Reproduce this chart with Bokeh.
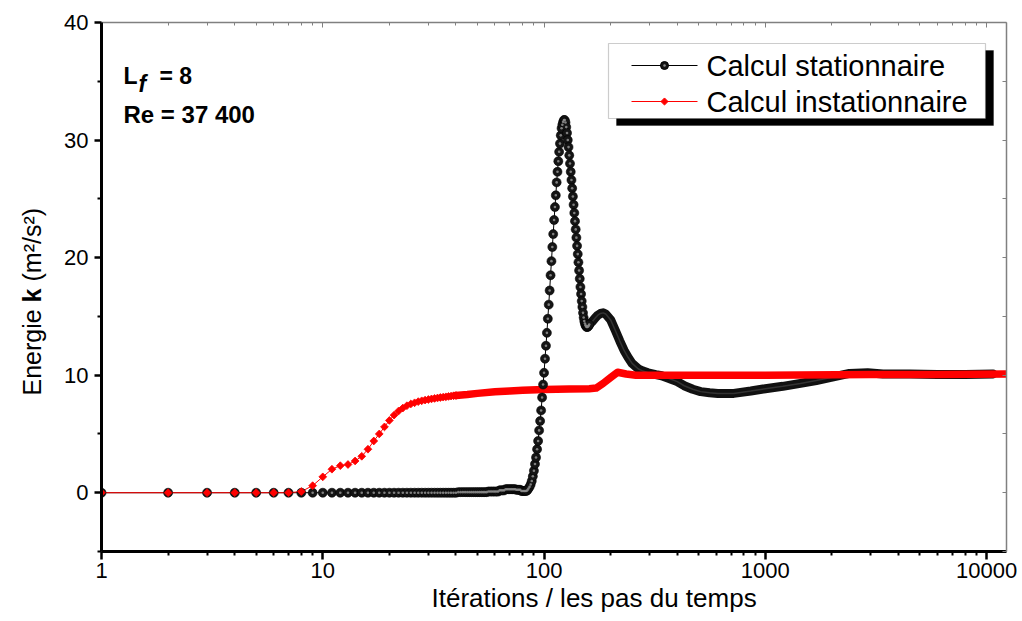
from bokeh.plotting import figure
from bokeh.models import (Range1d, LinearScale, FixedTicker, LinearAxis, LogAxis,
                          NumeralTickFormatter, Label, BoxAnnotation, Title)
from bokeh.layouts import row
from bokeh.embed import file_html
from bokeh.resources import INLINE
import math

# ---------------- data ----------------
# Calcul stationnaire: every iteration 1..160 (distinct markers)
it_stat_dense = list(range(1, 161))
k_stat_dense = [
    0, 0, 0, 0, 0, 0, 0, 0, 0, 0,
    0, 0, 0, 0, 0, 0, 0, 0, 0, 0,
    0, 0, 0, 0, 0, 0, 0, 0, 0, 0,
    0, 0, 0, 0, 0, 0, 0, 0, 0, 0,
    0.05, 0.05, 0.05, 0.05, 0.05, 0.05, 0.05, 0.05, 0.05, 0.05,
    0.05, 0.05, 0.05, 0.05, 0.05, 0.1, 0.1, 0.1, 0.1, 0.1,
    0.1, 0.1, 0.2, 0.2, 0.2, 0.2, 0.3, 0.3, 0.3, 0.3,
    0.3, 0.3, 0.3, 0.3, 0.25, 0.25, 0.25, 0.25, 0.15, 0.15,
    0.15, 0.15, 0.15, 0.2, 0.35, 0.5, 0.7, 1.0, 1.4, 1.87,
    2.44, 3.0, 3.7, 4.4, 5.3, 6.1, 7.0, 8.1, 9.2, 10.2,
    11.4, 12.5, 13.6, 14.8, 16.0, 17.2, 18.5, 19.7, 20.9, 22.0,
    23.2, 24.3, 25.3, 26.4, 27.3, 28.2, 29.0, 29.7, 30.4, 31.0,
    31.3, 31.55, 31.7, 31.7, 31.5, 31.1, 30.6, 30.0, 29.4, 28.7,
    28.0, 27.3, 26.6, 25.9, 25.2, 24.5, 23.8, 23.1, 22.4, 21.7,
    21.0, 20.3, 19.6, 18.9, 18.2, 17.5, 16.9, 16.3, 15.8, 15.3,
    14.9, 14.6, 14.4, 14.25, 14.15, 14.1, 14.1, 14.15, 14.2, 14.3,
]
# Calcul stationnaire: later iterations (markers merge into a band)
it_stat_tail = [160, 165, 170, 175, 180, 185, 190, 200, 210, 220,
                230, 240, 250, 266, 280, 295, 320, 340, 370, 400,
                430, 470, 510, 560, 610, 720, 860, 1000, 1200, 1440,
                1700, 2030, 2400, 2900, 3400, 4500, 6000, 8000, 10700]
k_stat_tail = [14.3, 14.55, 14.85, 15.1, 15.25, 15.3, 15.2, 14.7, 13.8, 12.9,
               12.1, 11.5, 11.0, 10.55, 10.35, 10.2, 10.05, 9.95, 9.7, 9.45,
               9.1, 8.8, 8.6, 8.5, 8.45, 8.45, 8.65, 8.85, 9.05, 9.3,
               9.55, 9.85, 10.15, 10.2, 10.1, 10.1, 10.05, 10.05, 10.1]

# Calcul instationnaire: time steps 1..40 (distinct markers)
it_inst_dense = list(range(1, 41))
k_inst_dense = [0, 0, 0, 0, 0, 0, 0, 0.1, 0.6, 1.35,
                2.0, 2.3, 2.4, 2.7, 3.1, 3.7, 4.4, 5.0, 5.6, 6.15,
                6.6, 6.95, 7.2, 7.4, 7.55, 7.65, 7.75, 7.82, 7.88, 7.93,
                7.98, 8.02, 8.06, 8.1, 8.13, 8.16, 8.19, 8.22, 8.25, 8.27]
it_inst_tail = [40, 45, 50, 60, 70, 80, 100, 130, 160, 172,
                185, 200, 215, 235, 260, 300, 500, 1000, 3000, 6000, 12300]
k_inst_tail = [8.27, 8.35, 8.45, 8.58, 8.66, 8.72, 8.78, 8.82, 8.85, 8.9,
               9.3, 9.8, 10.25, 10.1, 10.0, 10.0, 10.0, 10.0, 10.05, 10.05, 10.1]

x_major = [1, 10, 100, 1000, 10000]
x_minor = [2, 3, 4, 5, 6, 7, 8, 9, 20, 30, 40, 50, 60, 70, 80, 90,
           200, 300, 400, 500, 600, 700, 800, 900,
           2000, 3000, 4000, 5000, 6000, 7000, 8000, 9000]
y_major = [0, 10, 20, 30, 40]
y_minor = [-5, 5, 15, 25, 35]

series_names = ["Calcul stationnaire", "Calcul instationnaire"]
x_title = "Itérations / les pas du temps"

FONT = "Liberation Sans"

# ---------------- narrow strip holding the y-axis title ----------------
# (its frame is aligned with the main plot frame: 529 px tall)
ystrip = figure(width=50, height=621, x_range=Range1d(0, 50), y_range=Range1d(0, 529),
                output_backend="svg", toolbar_location=None,
                x_axis_location=None, y_axis_location=None, min_border=0)
ystrip.outline_line_color = None
ystrip.xgrid.visible = False
ystrip.ygrid.visible = False
ystrip.border_fill_color = "white"


def vlab(y, text, style):
    ystrip.add_layout(Label(x=31, y=y, text=text,
                            text_font=FONT, text_font_size="25px", text_font_style=style,
                            text_color="black", text_baseline="middle", text_align="left",
                            angle=math.pi / 2))


vlab(156, "Energie", "normal")
vlab(249, "k", "bold")
vlab(270, "(m²/s²)", "normal")

# ---------------- main figure ----------------
p = figure(width=972, height=621, x_axis_type="log",
           x_range=Range1d(1, 12300), y_range=Range1d(-5, 40),
           output_backend="svg", toolbar_location=None,
           min_border_left=51, min_border_right=16,
           min_border_top=22, min_border_bottom=70)
p.outline_line_color = None
p.xgrid.visible = False
p.ygrid.visible = False
p.background_fill_color = "white"
p.border_fill_color = "white"

# pixel-space helper range for legend / annotation placement
p.extra_x_ranges = {"px": Range1d(0, 905)}
p.extra_x_scales = {"px": LinearScale()}
p.extra_y_ranges = {"px": Range1d(0, 529)}
p.extra_y_scales = {"px": LinearScale()}

# bottom axis
xa = p.xaxis[0]
xa.ticker = FixedTicker(ticks=x_major, minor_ticks=x_minor)
xa.formatter = NumeralTickFormatter(format="0")
xa.axis_line_width = 3
xa.axis_line_color = "black"
xa.major_tick_out = 8
xa.major_tick_in = 0
xa.minor_tick_out = 4
xa.minor_tick_in = 0
xa.major_tick_line_width = 2.5
xa.minor_tick_line_width = 2
xa.major_label_text_font = FONT
xa.major_label_text_font_size = "22px"
xa.major_label_text_color = "black"
xa.major_label_standoff = 3

p.add_layout(Title(text=x_title, align="left", offset=330, standoff=0,
                   text_font=FONT, text_font_size="26px", text_font_style="normal",
                   text_color="black"), "below")

# left axis
ya = p.yaxis[0]
ya.ticker = FixedTicker(ticks=y_major, minor_ticks=y_minor)
ya.axis_line_width = 3
ya.axis_line_color = "black"
ya.major_tick_out = 7
ya.major_tick_in = 0
ya.minor_tick_out = 4
ya.minor_tick_in = 0
ya.major_tick_line_width = 2.5
ya.minor_tick_line_width = 2
ya.major_label_text_font = FONT
ya.major_label_text_font_size = "22px"
ya.major_label_text_color = "black"
ya.major_label_standoff = 6

# top and right frame axes (grey, inward ticks, no labels)
top = LogAxis(ticker=FixedTicker(ticks=x_major, minor_ticks=x_minor),
              major_label_text_font_size="1px", major_label_text_alpha=0,
              major_label_standoff=0,
              axis_line_color="#808080", axis_line_width=1.5,
              major_tick_in=5, major_tick_out=0, minor_tick_in=3, minor_tick_out=0,
              major_tick_line_color="#808080", minor_tick_line_color="#808080")
p.add_layout(top, "above")
right = LinearAxis(ticker=FixedTicker(ticks=y_major + y_minor, minor_ticks=[]),
                   major_label_text_font_size="1px", major_label_text_alpha=0,
                   major_label_standoff=0,
                   axis_line_color="#808080", axis_line_width=1.5,
                   major_tick_in=4, major_tick_out=0, minor_tick_in=0, minor_tick_out=0,
                   major_tick_line_color="#808080")
p.add_layout(right, "right")

# ---------------- curves ----------------
it_stat_all = it_stat_dense + it_stat_tail[1:]
k_stat_all = k_stat_dense + k_stat_tail[1:]
it_inst_all = it_inst_dense + it_inst_tail[1:]
k_inst_all = k_inst_dense + k_inst_tail[1:]

p.line(it_stat_all, k_stat_all, line_color="black", line_width=1)
p.line(it_stat_tail, k_stat_tail, line_color="#111111", line_width=9,
       line_join="round", line_cap="round")
p.line(it_stat_tail, k_stat_tail, line_color="#333333", line_width=1.5)

p.line(it_inst_all, k_inst_all, line_color="#ff0000", line_width=1)
p.line(it_inst_tail, k_inst_tail, line_color="#ff0000", line_width=7.5,
       line_join="round", line_cap="round")

p.scatter(it_stat_dense, k_stat_dense, marker="circle", size=9,
          fill_color="#151515", line_color="#000000", line_width=0.6)
p.scatter(it_stat_dense, k_stat_dense, marker="circle", size=2.6,
          fill_color="#8c8c8c", line_color=None, fill_alpha=0.9)
p.scatter(it_inst_dense, k_inst_dense, marker="square", angle=math.pi / 4, size=5.5,
          fill_color="#ff0000", line_color="#ff0000", line_width=0.8)

# ---------------- legend (drawn in pixel space of the frame) ----------------
p.add_layout(BoxAnnotation(left=515, right=892, bottom=426, top=501,
                           x_range_name="px", y_range_name="px",
                           fill_color="black", fill_alpha=1, line_color="black"))
p.add_layout(BoxAnnotation(left=507, right=884, bottom=433, top=508,
                           x_range_name="px", y_range_name="px",
                           fill_color="white", fill_alpha=1,
                           line_color="#555555", line_width=1.2))
leg_y = [486, 450]
p.line([530, 596], [leg_y[0], leg_y[0]], x_range_name="px", y_range_name="px",
       line_color="black", line_width=1, level="overlay")
p.scatter([563], [leg_y[0]], x_range_name="px", y_range_name="px", marker="circle",
          size=8, fill_color="#151515", line_color="black", level="overlay")
p.scatter([563], [leg_y[0]], x_range_name="px", y_range_name="px", marker="circle",
          size=2.5, fill_color="#8c8c8c", line_color=None, level="overlay")
p.line([530, 596], [leg_y[1], leg_y[1]], x_range_name="px", y_range_name="px",
       line_color="#ff0000", line_width=1, level="overlay")
p.scatter([563], [leg_y[1]], x_range_name="px", y_range_name="px", marker="square",
          angle=math.pi / 4, size=5, fill_color="#ff0000", line_color="#ff0000",
          level="overlay")
for name, yy in zip(series_names, leg_y):
    p.add_layout(Label(x=605, y=yy, text=name, x_range_name="px", y_range_name="px",
                       text_font=FONT, text_font_size="29px", text_color="black",
                       text_baseline="middle", text_align="left"))

# ---------------- annotation text ----------------
def lab(x, y, text, size, style="bold"):
    p.add_layout(Label(x=x, y=y, text=text, x_range_name="px", y_range_name="px",
                       text_font=FONT, text_font_size=size, text_font_style=style,
                       text_color="black", text_baseline="middle", text_align="left"))


lab(22, 476, "L", "23px")
lab(37, 468, "f", "23px", style="bold italic")
lab(58, 476, "= 8", "23px")
lab(22, 437, "Re = 37 400", "24px")

open("out.html", "w").write(file_html(row(ystrip, p, spacing=0), INLINE))
